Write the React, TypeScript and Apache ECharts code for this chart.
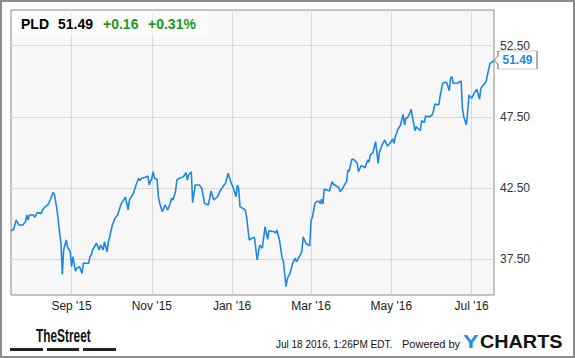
import React, { useEffect, useRef } from "react";
import * as echarts from "echarts";

const dates = [
  "2015-07-17","2015-07-19","2015-07-21","2015-07-23","2015-07-26","2015-07-28","2015-07-29","2015-07-30","2015-07-31",
  "2015-08-03","2015-08-04","2015-08-06","2015-08-09","2015-08-10","2015-08-12","2015-08-14","2015-08-16","2015-08-18","2015-08-19","2015-08-21","2015-08-23","2015-08-24","2015-08-25","2015-08-26","2015-08-28","2015-08-29","2015-08-31",
  "2015-09-01","2015-09-02","2015-09-04","2015-09-05","2015-09-07","2015-09-09","2015-09-10","2015-09-14","2015-09-15","2015-09-16","2015-09-17","2015-09-20","2015-09-22","2015-09-23","2015-09-25","2015-09-26","2015-09-28","2015-09-29","2015-09-30",
  "2015-10-02","2015-10-04","2015-10-06","2015-10-08","2015-10-09","2015-10-12","2015-10-14","2015-10-15","2015-10-18","2015-10-20","2015-10-22","2015-10-23","2015-10-24","2015-10-27","2015-10-29","2015-10-30",
  "2015-11-01","2015-11-02","2015-11-03","2015-11-05","2015-11-06","2015-11-07","2015-11-09","2015-11-11","2015-11-13","2015-11-15","2015-11-16","2015-11-17","2015-11-19","2015-11-20","2015-11-22","2015-11-25","2015-11-27","2015-11-28","2015-11-29",
  "2015-12-01","2015-12-02","2015-12-04","2015-12-07","2015-12-09","2015-12-11","2015-12-14","2015-12-16","2015-12-18","2015-12-21","2015-12-23","2015-12-25","2015-12-27","2015-12-29","2015-12-31",
  "2016-01-02","2016-01-04","2016-01-05","2016-01-06","2016-01-07","2016-01-09","2016-01-11","2016-01-12","2016-01-14","2016-01-16","2016-01-18","2016-01-20","2016-01-22","2016-01-24","2016-01-26","2016-01-28","2016-01-29",
  "2016-02-02","2016-02-03","2016-02-04","2016-02-06","2016-02-08","2016-02-09","2016-02-11","2016-02-12","2016-02-14","2016-02-16","2016-02-18","2016-02-19","2016-02-21","2016-02-23","2016-02-24","2016-02-26","2016-02-29",
  "2016-03-01","2016-03-02","2016-03-04","2016-03-05","2016-03-07","2016-03-08","2016-03-09","2016-03-10","2016-03-11","2016-03-13","2016-03-15","2016-03-17","2016-03-18","2016-03-20","2016-03-22","2016-03-23","2016-03-25","2016-03-27","2016-03-28","2016-03-29","2016-03-30",
  "2016-04-01","2016-04-03","2016-04-05","2016-04-06","2016-04-08","2016-04-10","2016-04-11","2016-04-13","2016-04-14","2016-04-15","2016-04-17","2016-04-19","2016-04-21","2016-04-22","2016-04-24","2016-04-26","2016-04-28","2016-04-30",
  "2016-05-02","2016-05-03","2016-05-04","2016-05-06","2016-05-08","2016-05-10","2016-05-11","2016-05-12","2016-05-13","2016-05-15","2016-05-16","2016-05-17","2016-05-19","2016-05-20","2016-05-23","2016-05-24","2016-05-26","2016-05-27","2016-05-30",
  "2016-06-01","2016-06-02","2016-06-03","2016-06-06","2016-06-07","2016-06-09","2016-06-11","2016-06-12","2016-06-14","2016-06-15","2016-06-16","2016-06-17","2016-06-20","2016-06-22","2016-06-23","2016-06-24","2016-06-25","2016-06-27","2016-06-28","2016-06-29",
  "2016-07-01","2016-07-03","2016-07-05","2016-07-07","2016-07-08","2016-07-10","2016-07-12","2016-07-13","2016-07-15","2016-07-17","2016-07-18",
];

const prices = [
  39.51,39.61,40.26,39.91,39.91,40.14,40.61,40.26,40.61,
  40.61,40.45,40.78,40.73,40.97,41.20,41.32,41.72,42.21,42.04,40.97,39.33,38.63,36.45,38.16,38.86,38.35,38.04,
  36.99,37.69,36.68,36.87,36.99,36.52,37.23,37.23,37.69,37.81,38.16,38.63,38.16,38.51,38.16,38.74,38.04,38.74,39.09,
  39.91,40.38,40.61,41.20,41.44,41.86,40.97,41.67,42.14,42.72,43.19,43.02,43.19,43.26,43.35,42.72,
  43.19,43.65,43.19,43.12,41.90,41.44,40.85,41.32,40.97,41.44,41.79,41.67,42.25,43.07,43.19,43.30,43.58,43.07,43.42,
  43.65,41.48,42.72,42.72,42.49,41.44,41.32,42.30,41.67,41.90,42.32,42.60,42.84,43.54,42.95,
  42.49,41.90,42.72,42.49,41.20,41.08,40.97,40.50,38.86,38.98,39.05,37.46,38.51,38.28,39.79,38.91,39.51,
  39.44,39.33,39.56,38.86,37.58,37.34,35.58,36.17,36.52,37.23,37.58,37.34,37.69,38.04,39.09,38.63,38.46,
  40.26,40.45,41.44,41.55,41.60,41.39,41.72,41.39,42.42,42.37,42.30,42.95,42.79,42.65,42.56,42.25,42.49,42.84,42.95,43.77,43.70,
  44.54,44.47,44.24,43.65,44.07,44.00,43.93,44.47,44.33,44.82,44.99,45.76,44.24,45.06,45.53,45.88,45.46,45.65,
  45.95,45.65,46.11,46.63,46.93,47.68,46.93,47.40,47.40,47.75,48.03,47.51,46.53,46.81,46.53,47.23,47.09,47.56,47.51,
  47.63,47.91,48.40,48.33,48.92,49.86,49.93,49.93,49.34,50.21,50.32,49.86,49.86,49.97,50.02,48.10,47.51,46.93,47.86,49.04,
  48.80,49.16,49.44,48.73,49.51,49.74,49.97,50.44,51.26,51.37,51.49,
];

const xTickDates = ["2015-09-01", "2015-11-01", "2016-01-01", "2016-03-01", "2016-05-01", "2016-07-01"];
const xTickLabels = ["Sep '15", "Nov '15", "Jan '16", "Mar '16", "May '16", "Jul '16"];
const yTicks = [37.5, 42.5, 47.5, 52.5];
const yMin = 35;
const yMax = 55;

const ticker = "PLD";
const lastPrice = "51.49";
const change = "+0.16";
const changePct = "+0.31%";
const timestamp = "Jul 18 2016, 1:26PM EDT.";

const FONT = "Liberation Sans, Arial, Helvetica, sans-serif";
const LINE_BLUE = "#1e88e5";
const GREEN = "#1a9a1a";

const toTime = (s: string) => {
  const [y, m, d] = s.split("-").map(Number);
  return new Date(y, m - 1, d).getTime();
};

export default function App() {
  const ref = useRef<HTMLDivElement>(null);

  useEffect(() => {
    if (!ref.current) return;
    const chart = echarts.init(ref.current, undefined, { renderer: "svg" });
    const data = dates.map((d, i) => [toTime(d), prices[i]]);
    const xTickTimes = xTickDates.map(toTime);
    const last = data[data.length - 1];

    const option: any = {
      animation: false,
      backgroundColor: "#ffffff",
      grid: {
        left: 11,
        top: 10,
        width: 483,
        height: 285,
        containLabel: false,
        outerBoundsMode: "none",
        show: true,
        backgroundColor: "#f7f7f7",
        borderColor: "#8a8a8a",
        borderWidth: 1,
      },
      xAxis: {
        type: "value",
        min: data[0][0],
        max: last[0],
        axisLine: { show: false },
        axisTick: { show: false },
        splitLine: { show: false },
        axisLabel: {
          customValues: xTickTimes,
          formatter: (v: number) => {
            const i = xTickTimes.findIndex((t) => Math.abs(t - v) < 43200000);
            return i >= 0 ? xTickLabels[i] : "";
          },
          color: "#222",
          fontSize: 12,
          fontFamily: FONT,
          margin: 5,
        },
      },
      yAxis: {
        type: "value",
        position: "right",
        min: yMin,
        max: yMax,
        axisLine: { show: false },
        axisTick: { show: false },
        splitLine: { show: false },
        axisLabel: {
          customValues: yTicks,
          formatter: (v: number) => v.toFixed(2),
          color: "#333",
          fontSize: 12,
          fontFamily: FONT,
          margin: 6,
        },
      },
      series: [
        {
          type: "line",
          data,
          showSymbol: false,
          symbol: "none",
          z: 3,
          lineStyle: { color: LINE_BLUE, width: 1.6 },
          itemStyle: { color: LINE_BLUE },
          markLine: {
            silent: true,
            z: 1,
            symbol: ["none", "none"],
            label: { show: false },
            emphasis: { disabled: true },
            lineStyle: { color: "#d9d9d9", type: "solid", width: 1 },
            data: [
              ...yTicks.map((v) => ({ yAxis: v })),
              ...xTickTimes.map((t) => ({ xAxis: t })),
            ],
          },
          markPoint: {
            silent: true,
            z: 10,
            symbol: "path://M0,9 L4,5 L4,0 L43,0 L43,18 L4,18 L4,13 Z",
            symbolSize: [43, 18],
            symbolOffset: [21.5, 0],
            symbolKeepAspect: false,
            itemStyle: { color: "#ffffff", borderColor: "#999999", borderWidth: 1 },
            label: {
              show: true,
              position: "inside",
              offset: [2, 0],
              formatter: (p: any) => Number(p.value).toFixed(2),
              color: LINE_BLUE,
              fontWeight: "bold",
              fontSize: 12,
              fontFamily: FONT,
            },
            data: [{ coord: last, value: last[1] }],
          },
        },
      ],
      graphic: [
        {
          type: "rect",
          z: 100,
          silent: true,
          shape: { x: 1, y: 1, width: 573, height: 356 },
          style: { fill: "none", stroke: "#8c8c8c", lineWidth: 2 },
        },
        {
          type: "rect",
          z: 90,
          silent: true,
          shape: { x: 12, y: 11, width: 196, height: 26 },
          style: { fill: "rgba(255,255,255,0.55)" },
        },
        {
          type: "text",
          z: 95,
          x: 21,
          y: 24,
          style: { text: ticker, fill: "#000", font: `bold 14px ${FONT}`, verticalAlign: "middle" },
        },
        {
          type: "text",
          z: 95,
          x: 58,
          y: 24,
          style: { text: lastPrice, fill: "#000", font: `bold 14px ${FONT}`, verticalAlign: "middle" },
        },
        {
          type: "text",
          z: 95,
          x: 103,
          y: 24,
          style: { text: change, fill: GREEN, font: `bold 14px ${FONT}`, verticalAlign: "middle" },
        },
        {
          type: "text",
          z: 95,
          x: 148,
          y: 24,
          style: { text: changePct, fill: GREEN, font: `bold 14px ${FONT}`, verticalAlign: "middle" },
        },
        {
          type: "text",
          z: 95,
          x: 36,
          y: 336,
          scaleX: 0.66,
          style: { text: "TheStreet", fill: "#111", font: `bold 18px ${FONT}`, verticalAlign: "middle" },
        },
        { type: "rect", z: 95, shape: { x: 10, y: 348, width: 33, height: 3 }, style: { fill: "#222" } },
        { type: "rect", z: 95, shape: { x: 47, y: 348, width: 32, height: 3 }, style: { fill: "#222" } },
        { type: "rect", z: 95, shape: { x: 83, y: 348, width: 33, height: 3 }, style: { fill: "#222" } },
        {
          type: "text",
          z: 95,
          x: 276,
          y: 344,
          style: { text: timestamp, fill: "#111", font: `10px ${FONT}`, verticalAlign: "middle" },
        },
        {
          type: "text",
          z: 95,
          x: 402,
          y: 344,
          style: { text: "Powered by", fill: "#111", font: `11px ${FONT}`, verticalAlign: "middle" },
        },
        {
          type: "text",
          z: 95,
          x: 463,
          y: 342,
          scaleX: 1.3,
          style: { text: "Y", fill: "#1f8fe8", font: `900 18px ${FONT}`, verticalAlign: "middle" },
        },
        {
          type: "text",
          z: 95,
          x: 480,
          y: 342,
          scaleX: 1.1,
          style: { text: "CHARTS", fill: "#111", font: `900 18px ${FONT}`, verticalAlign: "middle" },
        },
      ],
    };

    chart.setOption(option);
    return () => chart.dispose();
  }, []);

  return (
    <div
      ref={ref}
      style={{ position: "absolute", left: 0, top: 0, width: 575, height: 358 }}
    />
  );
}
